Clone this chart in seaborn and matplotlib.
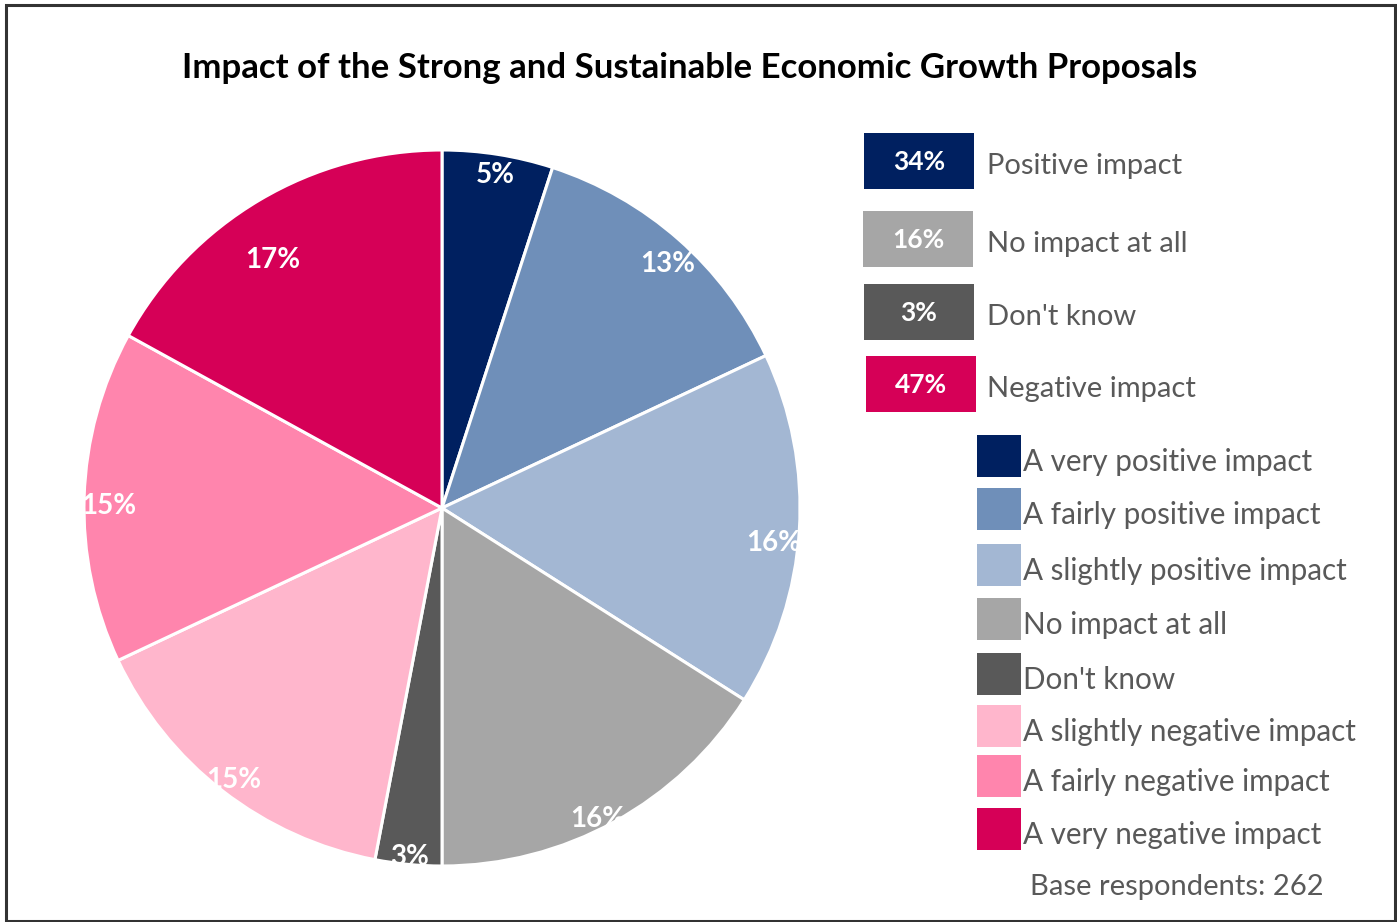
import matplotlib
matplotlib.use("Agg")
import matplotlib.pyplot as plt
from matplotlib.patches import Rectangle
import numpy as np
import seaborn as sns

# Survey responses (percent of respondents)
categories = [
    "A very positive impact",
    "A fairly positive impact",
    "A slightly positive impact",
    "No impact at all",
    "Don't know",
    "A slightly negative impact",
    "A fairly negative impact",
    "A very negative impact",
]
shares = [5, 13, 16, 16, 3, 15, 15, 17]

# Grouped summary
summary_labels = ["Positive impact", "No impact at all", "Don't know", "Negative impact"]
summary_values = [34, 16, 3, 47]

base_note = "Base respondents: 262"
title = "Impact of the Strong and Sustainable Economic Growth Proposals"

slice_colors = ["#002060", "#6F8FB9", "#A3B7D3", "#A6A6A6",
                "#595959", "#FFB6CC", "#FF85AD", "#D60057"]
summary_colors = ["#002060", "#A6A6A6", "#595959", "#D60057"]

# radial distance of each percentage label (fraction of the radius)
label_dist = [0.95, 0.935, 0.93, 0.965, 0.97, 0.95, 0.93, 0.845]
# extra angular nudge of each label, degrees (counter-clockwise)
label_nudge = [0, -1, -2, -2, 0, 0, 1, 3.5]

sns.set_theme(style="white")
plt.rcParams["font.family"] = ["Lato", "DejaVu Sans"]

W, H = 1397, 922
fig = plt.figure(figsize=(W / 100, H / 100), dpi=100)
fig.patch.set_facecolor("white")


def fx(px):
    return px / W


def fy(py):
    return 1 - py / H


# Pie axes: centre (442, 508) px, radius 358 px
cx, cy, r = 442, 508, 358
ax = fig.add_axes([fx(cx - r), fy(cy + r), fx(2 * r), 2 * r / H])
wedges, _, autotexts = ax.pie(
    shares,
    colors=slice_colors,
    startangle=90,
    counterclock=False,
    radius=1.0,
    autopct="%.0f%%",
    pctdistance=0.95,
    wedgeprops=dict(edgecolor="white", linewidth=2.2),
    textprops=dict(color="white", fontsize=20, fontweight="bold"),
)
for w, t, d, nudge in zip(wedges, autotexts, label_dist, label_nudge):
    mid = np.deg2rad((w.theta1 + w.theta2) / 2 + nudge)
    t.set_position((d * np.cos(mid), d * np.sin(mid) - 0.008))
    t.set_va("center")
    t.set_ha("center")
ax.set_xlim(-1, 1)
ax.set_ylim(-1, 1)
ax.set_aspect("auto")
ax.axis("off")

# Title
fig.text(fx(690), fy(68), title, ha="center", va="center",
         fontsize=25, fontweight="bold", color="black")

# Summary legend (boxes with totals)
box_w, box_h = 110, 56
box_tops = [133, 211, 284, 356]
box_lefts = [864, 863, 864, 866]
for lab, val, col, top, left in zip(summary_labels, summary_values,
                                     summary_colors, box_tops, box_lefts):
    fig.patches.append(Rectangle((fx(left), fy(top + box_h)), fx(box_w), box_h / H,
                                 transform=fig.transFigure, facecolor=col,
                                 edgecolor="none"))
    fig.text(fx(left + box_w / 2), fy(top + box_h / 2 + 1), f"{val}%",
             ha="center", va="center", color="white", fontsize=19,
             fontweight="bold")
    fig.text(fx(987), fy(top + box_h / 2 + 5), lab, ha="left", va="center",
             color="#595959", fontsize=21)

# Detailed legend (small swatches)
sw_w, sw_h = 44, 42
sw_tops = [435, 488, 544, 598, 653, 705, 755, 808]
for lab, col, top in zip(categories, slice_colors, sw_tops):
    fig.patches.append(Rectangle((fx(977), fy(top + sw_h)), fx(sw_w), sw_h / H,
                                 transform=fig.transFigure, facecolor=col,
                                 edgecolor="none"))
    fig.text(fx(1023), fy(top + sw_h / 2 + 6), lab, ha="left", va="center",
             color="#595959", fontsize=21.3)

fig.text(fx(1177), fy(887), base_note, ha="center", va="center",
         color="#595959", fontsize=21)

# Outer frame
fig.patches.append(Rectangle((fx(5.5), fy(920.5)), fx(1395 - 5.5), (920.5 - 5.5) / H,
                             transform=fig.transFigure, fill=False,
                             edgecolor="#333333", linewidth=2.2))

fig.savefig("out.png", dpi=100, facecolor="white")
